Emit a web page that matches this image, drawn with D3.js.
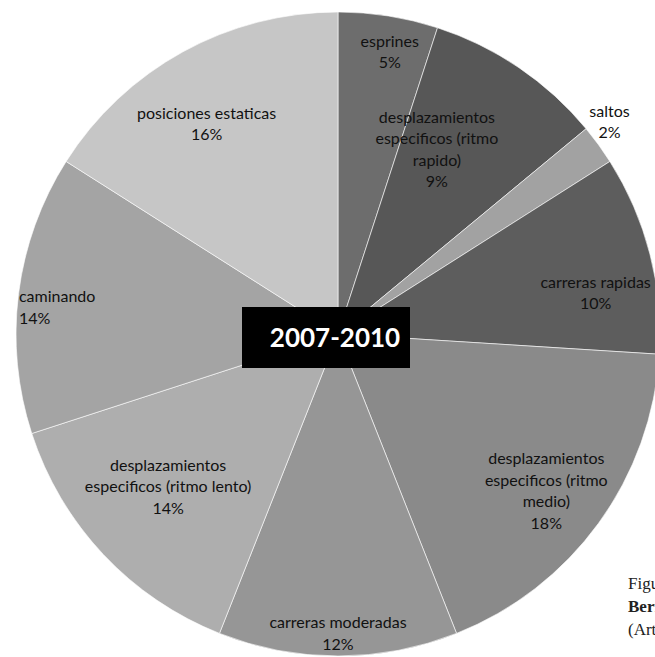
<!DOCTYPE html>
<html><head><meta charset="utf-8">
<script src="https://cdn.jsdelivr.net/npm/d3@7"></script>
<style>body{margin:0;background:#fff;overflow:hidden}svg{display:block}</style>
</head><body>
<svg id="c" width="655" height="657"></svg>
<script>
const categories = ["esprines","desplazamientos especificos (ritmo rapido)","saltos","carreras rapidas","desplazamientos especificos (ritmo medio)","carreras moderadas","desplazamientos especificos (ritmo lento)","caminando","posiciones estaticas"];
const labelLines = [["esprines"],["desplazamientos","especificos (ritmo","rapido)"],["saltos"],["carreras rapidas"],["desplazamientos","especificos (ritmo","medio)"],["carreras moderadas"],["desplazamientos","especificos (ritmo lento)"],["caminando"],["posiciones estaticas"]];
const values = [5, 9, 2, 10, 18, 12, 14, 14, 16];
const title = "2007-2010";

// layout / style (not data)
const colors = ["#6d6d6d","#575757","#a2a2a2","#5d5d5d","#8a8a8a","#969696","#aeaeae","#a4a4a4","#c6c6c6"];
const labelRadius = [0.89,0.65,1.07,0.81,0.81,0.93,0.71,0.88,0.77];
const labelAngleAdj = [1.4,-6,-2,5.4,1,0,1.2,-1.8,-3.2];

const svg = d3.select("#c");
const cx = 338, cy = 334, R = 322;
const g = svg.append("g").attr("transform", `translate(${cx},${cy})`);
const pie = d3.pie().sort(null).value(d => d)(values);
const arc = d3.arc().innerRadius(0).outerRadius(R);
g.selectAll("path").data(pie).join("path")
  .attr("d", arc).attr("fill", (d,i) => colors[i])
  .attr("stroke", "#fff").attr("stroke-width", 0.6);

const fmt = d3.format(".0%");
const total = d3.sum(values);
pie.forEach((d,i) => {
  const a = (d.startAngle + d.endAngle)/2 + labelAngleAdj[i]*Math.PI/180;
  const r = R*labelRadius[i];
  const x = Math.sin(a)*r, y = -Math.cos(a)*r;
  const lines = labelLines[i].concat([fmt(values[i]/total)]);
  const lh = 21.5;
  const t = g.append("text").attr("font-family","Lato, 'Open Sans', sans-serif")
    .attr("font-size", 16).attr("fill", "#111")
    .attr("text-anchor", i === 7 ? "start" : "middle");
  const x0 = i === 7 ? x - 37 : x;
  lines.forEach((l,k) => {
    t.append("tspan").attr("x", x0).attr("y", y + (k - (lines.length-1)/2)*lh + 5.5).text(l);
  });
});

// title box
svg.append("rect").attr("x", 242).attr("y", 307).attr("width", 168).attr("height", 61).attr("fill", "#000");
svg.append("text").attr("x", 335).attr("y", 347).attr("text-anchor","middle")
  .attr("font-family","Lato, 'Open Sans', sans-serif").attr("font-weight","bold")
  .attr("font-size", 26).attr("fill","#fff").text(title);

// caption at right (cut by the page edge as in the reference)
const cap = svg.append("text").attr("font-family","'Liberation Serif', serif").attr("font-size",17).attr("fill","#222");
cap.append("tspan").attr("x",628).attr("y",589).text("Figura");
cap.append("tspan").attr("x",628).attr("y",612).attr("font-weight","bold").text("Bermejo");
cap.append("tspan").attr("x",628).attr("y",635).text("(Artículo)");
</script>
</body></html>
